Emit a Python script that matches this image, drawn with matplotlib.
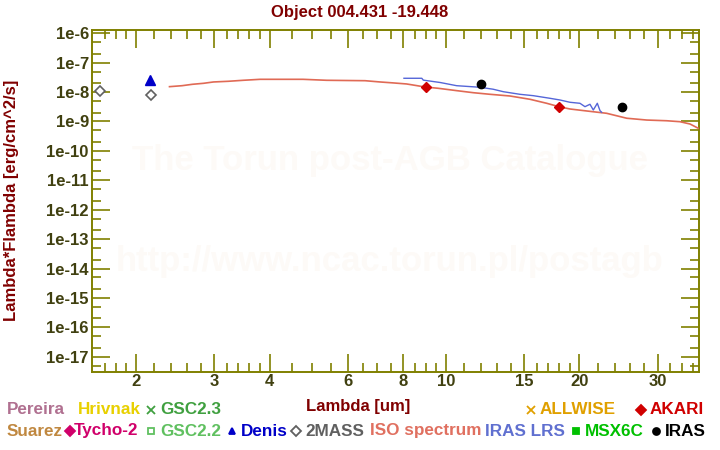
import numpy as np
import matplotlib
matplotlib.use('Agg')
from matplotlib import pyplot as plt
from matplotlib.lines import Line2D
from matplotlib.ticker import FixedLocator, FixedFormatter, NullFormatter

plt.rcParams['font.family'] = ['Liberation Sans', 'DejaVu Sans']
plt.rcParams['font.weight'] = 'bold'

# spectra (wavelength in um, lambda*F_lambda in erg/cm^2/s)
iso_wave = [2.38, 2.54, 2.68, 2.84, 2.99, 3.23, 3.49, 3.81, 4.76, 5.38, 6.57,
            7.10, 7.61, 8.15, 8.43, 8.97, 9.59, 10.57, 11.52, 12.57, 13.94,
            15.47, 16.87, 17.98, 19.04, 20.76, 23.03, 25.56, 28.36, 31.46,
            33.7, 35.5, 37.07]
iso_flux = [1.53e-8, 1.65e-8, 1.84e-8, 1.99e-8, 2.21e-8, 2.33e-8, 2.52e-8,
            2.72e-8, 2.72e-8, 2.52e-8, 2.44e-8, 2.21e-8, 2.05e-8, 1.89e-8,
            1.74e-8, 1.49e-8, 1.35e-8, 1.12e-8, 9.54e-9, 8.41e-9, 7.37e-9,
            5.69e-9, 4.16e-9, 3.19e-9, 2.66e-9, 2.28e-9, 1.90e-9, 1.29e-9,
            1.12e-9, 1.06e-9, 9.84e-10, 8.22e-10, 5.87e-10]

lrs_wave = [8.04, 8.82, 8.89, 9.70, 10.57, 11.93, 12.78, 13.47, 14.68, 15.74,
            17.16, 18.07, 19.04, 20.05, 20.58, 21.12, 21.49, 21.94, 22.25, 22.44]
lrs_flux = [2.95e-8, 2.95e-8, 2.55e-8, 2.12e-8, 1.65e-8, 1.46e-8, 1.25e-8,
            1.03e-8, 8.41e-9, 7.55e-9, 6.15e-9, 5.39e-9, 4.50e-9, 4.16e-9,
            3.19e-9, 3.85e-9, 2.46e-9, 4.16e-9, 2.33e-9, 2.06e-9]

# photometry
twomass_wave = [1.66, 2.16]
twomass_flux = [1.13e-8, 7.9e-9]
denis_wave = [2.15]
denis_flux = [2.58e-8]
akari_wave = [9.0, 18.0]
akari_flux = [1.46e-8, 3.04e-9]
iras_wave = [12.0, 25.0]
iras_flux = [1.84e-8, 3.04e-9]

x_major = [2, 3, 4, 6, 8, 10, 15, 20, 30]
x_minor = [1.7, 1.8, 1.9, 2.2, 2.4, 2.6, 2.8, 3.2, 3.4, 3.6, 3.8, 4.5, 5, 5.5,
           6.5, 7, 7.5, 8.5, 9, 9.5, 11, 12, 13, 14, 16, 17, 18, 19,
           22, 24, 26, 28, 32, 34, 36]
y_exp = list(range(6, 18))

OLIVE = '#808000'
TICKTXT = '#404010'
DARKRED = '#800000'

fig = plt.figure(figsize=(7.2, 4.5), dpi=100)
ax = fig.add_axes([92.3 / 720, 1 - 371.7 / 450, (699 - 92.3) / 720, (371.7 - 29.7) / 450])

ax.set_xscale('log')
ax.set_yscale('log')
ax.set_xlim(1.594, 37.2)
ax.set_ylim(10 ** -17.51, 10 ** -5.878)

# watermark
ax.text(0.49, 0.619, 'The Torun post-AGB Catalogue', transform=ax.transAxes,
        ha='center', va='center', fontsize=25, color='#fdfaf7', zorder=0)
ax.text(0.49, 0.321, 'http://www.ncac.torun.pl/postagb', transform=ax.transAxes,
        ha='center', va='center', fontsize=25, color='#fdfaf7', zorder=0)

ax.plot(iso_wave, iso_flux, color='#e06a55', lw=1.2, zorder=3)
ax.plot(lrs_wave, lrs_flux, color='#5566d8', lw=1.0, zorder=3)
ax.plot(twomass_wave, twomass_flux, ls='none', marker='D', ms=5, mfc='white',
        mec='#606060', mew=1.2, zorder=4)
ax.plot(denis_wave, denis_flux, ls='none', marker='^', ms=6.5, color='#0000c8', zorder=4)
ax.plot(akari_wave, akari_flux, ls='none', marker='D', ms=5.5, color='#d00000', zorder=4)
ax.plot(iras_wave, iras_flux, ls='none', marker='o', ms=6, color='black', zorder=4)

ax.xaxis.set_major_locator(FixedLocator(x_major))
ax.xaxis.set_major_formatter(FixedFormatter([str(v) for v in x_major]))
ax.xaxis.set_minor_locator(FixedLocator(x_minor))
ax.xaxis.set_minor_formatter(NullFormatter())
ax.yaxis.set_major_locator(FixedLocator([10.0 ** -k for k in y_exp]))
ax.yaxis.set_major_formatter(FixedFormatter(['1e-%d' % k for k in y_exp]))
ax.yaxis.set_minor_locator(FixedLocator([m * 10.0 ** -k for k in range(5, 19) for m in (2, 5)]))
ax.yaxis.set_minor_formatter(NullFormatter())

ax.tick_params(which='both', direction='in', top=True, right=True, color=OLIVE, width=1.2)
ax.tick_params(which='major', length=13)
ax.tick_params(which='minor', length=6.5)
ax.tick_params(axis='x', which='major', pad=2, labelsize=12, labelcolor=TICKTXT)
ax.tick_params(axis='y', which='major', pad=2.5, labelsize=12, labelcolor=TICKTXT)
for s in ax.spines.values():
    s.set_color(OLIVE)
    s.set_linewidth(1.4)

fig.text(0.5, 1 - 12 / 450, 'Object 004.431 -19.448', ha='center', va='center',
         fontsize=12, color=DARKRED)
fig.text(358 / 720, 1 - 406 / 450, 'Lambda [um]', ha='center', va='center',
         fontsize=12, color=DARKRED)
fig.text(12 / 720, 1 - 200.7 / 450, 'Lambda*Flambda [erg/cm^2/s]', ha='center',
         va='center', rotation=90, fontsize=12, color=DARKRED)

# catalogue legend below the plot: (name, colour, marker, filled, text x px)
legend_rows = [
    (410, [('Pereira', '#b07090', None, True, 7),
           ('Hrivnak', '#e8d000', None, True, 78),
           ('GSC2.3', '#40a040', 'x', True, 160),
           ('ALLWISE', '#e0a000', 'x', True, 540),
           ('AKARI', '#d00000', 'D', True, 650)]),
    (431, [('Suarez', '#c08840', None, True, 7),
           ('Tycho-2', '#d0006a', 'D', True, 74),
           ('GSC2.2', '#60c060', 's', False, 160),
           ('Denis', '#0000c8', '^', True, 241),
           ('2MASS', '#606060', 'D', False, 305),
           ('ISO spectrum', '#e07060', None, True, 370),
           ('IRAS LRS', '#6070d0', None, True, 485),
           ('MSX6C', '#00c000', 's', True, 585),
           ('IRAS', '#000000', 'o', True, 665)]),
]
for py, entries in legend_rows:
    fy = 1 - py / 450
    for name, col, mk, filled, px in entries:
        fig.text(px / 720, fy, name, ha='left', va='center', fontsize=12.3, color=col)
        if mk is not None:
            mx = (px - 9) / 720 if name != 'Tycho-2' else (px - 4) / 720
            ms = 6 if mk == 'x' else 5
            fig.add_artist(Line2D([mx], [fy], marker=mk, ms=ms, ls='none',
                                  mfc=col if filled else 'white', mec=col,
                                  mew=1.3, transform=fig.transFigure))

fig.savefig('out.png', dpi=100)
